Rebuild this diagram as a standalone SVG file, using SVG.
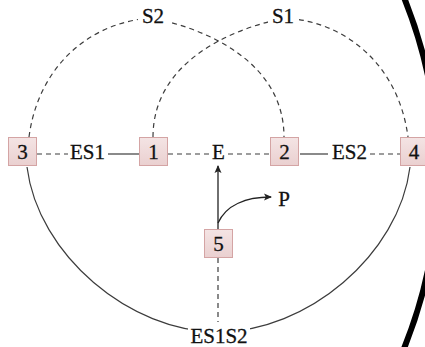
<svg xmlns="http://www.w3.org/2000/svg" width="425" height="347" viewBox="0 0 425 347">
<style>
.lbl{font-family:"Liberation Serif","DejaVu Serif","Times New Roman",serif;font-size:21px;fill:#111;stroke:#111;stroke-width:0.3;text-anchor:middle}
.box{fill:url(#nf);stroke:#d4a4a4;stroke-width:1}
.dash{fill:none;stroke:#3c3c3c;stroke-width:1.2;stroke-dasharray:5 4}
.solid{fill:none;stroke:#3c3c3c;stroke-width:1.2}
.arr{fill:none;stroke:#222;stroke-width:1.3;marker-end:url(#ah)}
.bg{fill:#fff}
</style>
<defs>
<linearGradient id="nf" x1="0" y1="0" x2="0" y2="1">
<stop offset="0" stop-color="#f4e4e4"/>
<stop offset="1" stop-color="#ead0d0"/>
</linearGradient>
<marker id="ah" markerWidth="9" markerHeight="8" refX="7" refY="4" orient="auto" markerUnits="userSpaceOnUse">
<path d="M0,0.5 L8,4 L0,7.5 L1.8,4 z" fill="#222"/>
</marker>
</defs>
<g id="connectors">
<path class="dash" d="M29 137 C38 68 88 22 152 18 C212 30 284 65 284 137"/>
<path class="dash" d="M153 137 C153 65 225 30 285 18 C349 22 399 68 408 137"/>
<path class="solid" d="M27 167 C38 255 130 332 218 332 C307 332 399 255 410 167"/>
<line class="dash" x1="37" y1="154" x2="68" y2="154"/>
<line class="solid" x1="108" y1="154" x2="139" y2="154"/>
<line class="dash" x1="168" y1="154" x2="209" y2="154"/>
<line class="dash" x1="228" y1="154" x2="270" y2="154"/>
<line class="solid" x1="300" y1="154" x2="328" y2="154"/>
<line class="dash" x1="370" y1="154" x2="400" y2="154"/>
<line class="dash" x1="218" y1="258" x2="218" y2="322"/>
<line class="arr" x1="218" y1="229" x2="218" y2="166"/>
<path class="arr" d="M218 223 C226 205 246 197 271 197"/>
</g>
<g id="S2"><rect class="bg" x="138" y="3" width="31" height="26"/><text class="lbl" x="153" y="23">S2</text></g>
<g id="S1"><rect class="bg" x="268" y="3" width="31" height="26"/><text class="lbl" x="283" y="23">S1</text></g>
<g id="ES1S2"><rect class="bg" x="188" y="322" width="62" height="25"/><text class="lbl" x="219" y="343">ES1S2</text></g>
<g id="ES1"><text class="lbl" x="87.5" y="159">ES1</text></g>
<g id="ES2"><text class="lbl" x="349.5" y="159">ES2</text></g>
<g id="E"><text class="lbl" x="218.5" y="159">E</text></g>
<g id="P"><text class="lbl" x="284" y="206">P</text></g>
<g id="n3"><rect class="box" x="8.5" y="137.5" width="28" height="28"/><text class="lbl" x="22.5" y="159">3</text></g>
<g id="n1"><rect class="box" x="139.5" y="137.5" width="28" height="28"/><text class="lbl" x="153.5" y="159">1</text></g>
<g id="n2"><rect class="box" x="270.5" y="137.5" width="28" height="28"/><text class="lbl" x="284.5" y="159">2</text></g>
<g id="n4"><rect class="box" x="400.5" y="137.5" width="28" height="28"/><text class="lbl" x="414" y="159">4</text></g>
<g id="n5"><rect class="box" x="204.5" y="229.5" width="28" height="28"/><text class="lbl" x="218.5" y="251">5</text></g>
<path d="M403 -5 A468.6 468.6 0 0 1 402.6 352" fill="none" stroke="#000" stroke-width="6"/>
</svg>
